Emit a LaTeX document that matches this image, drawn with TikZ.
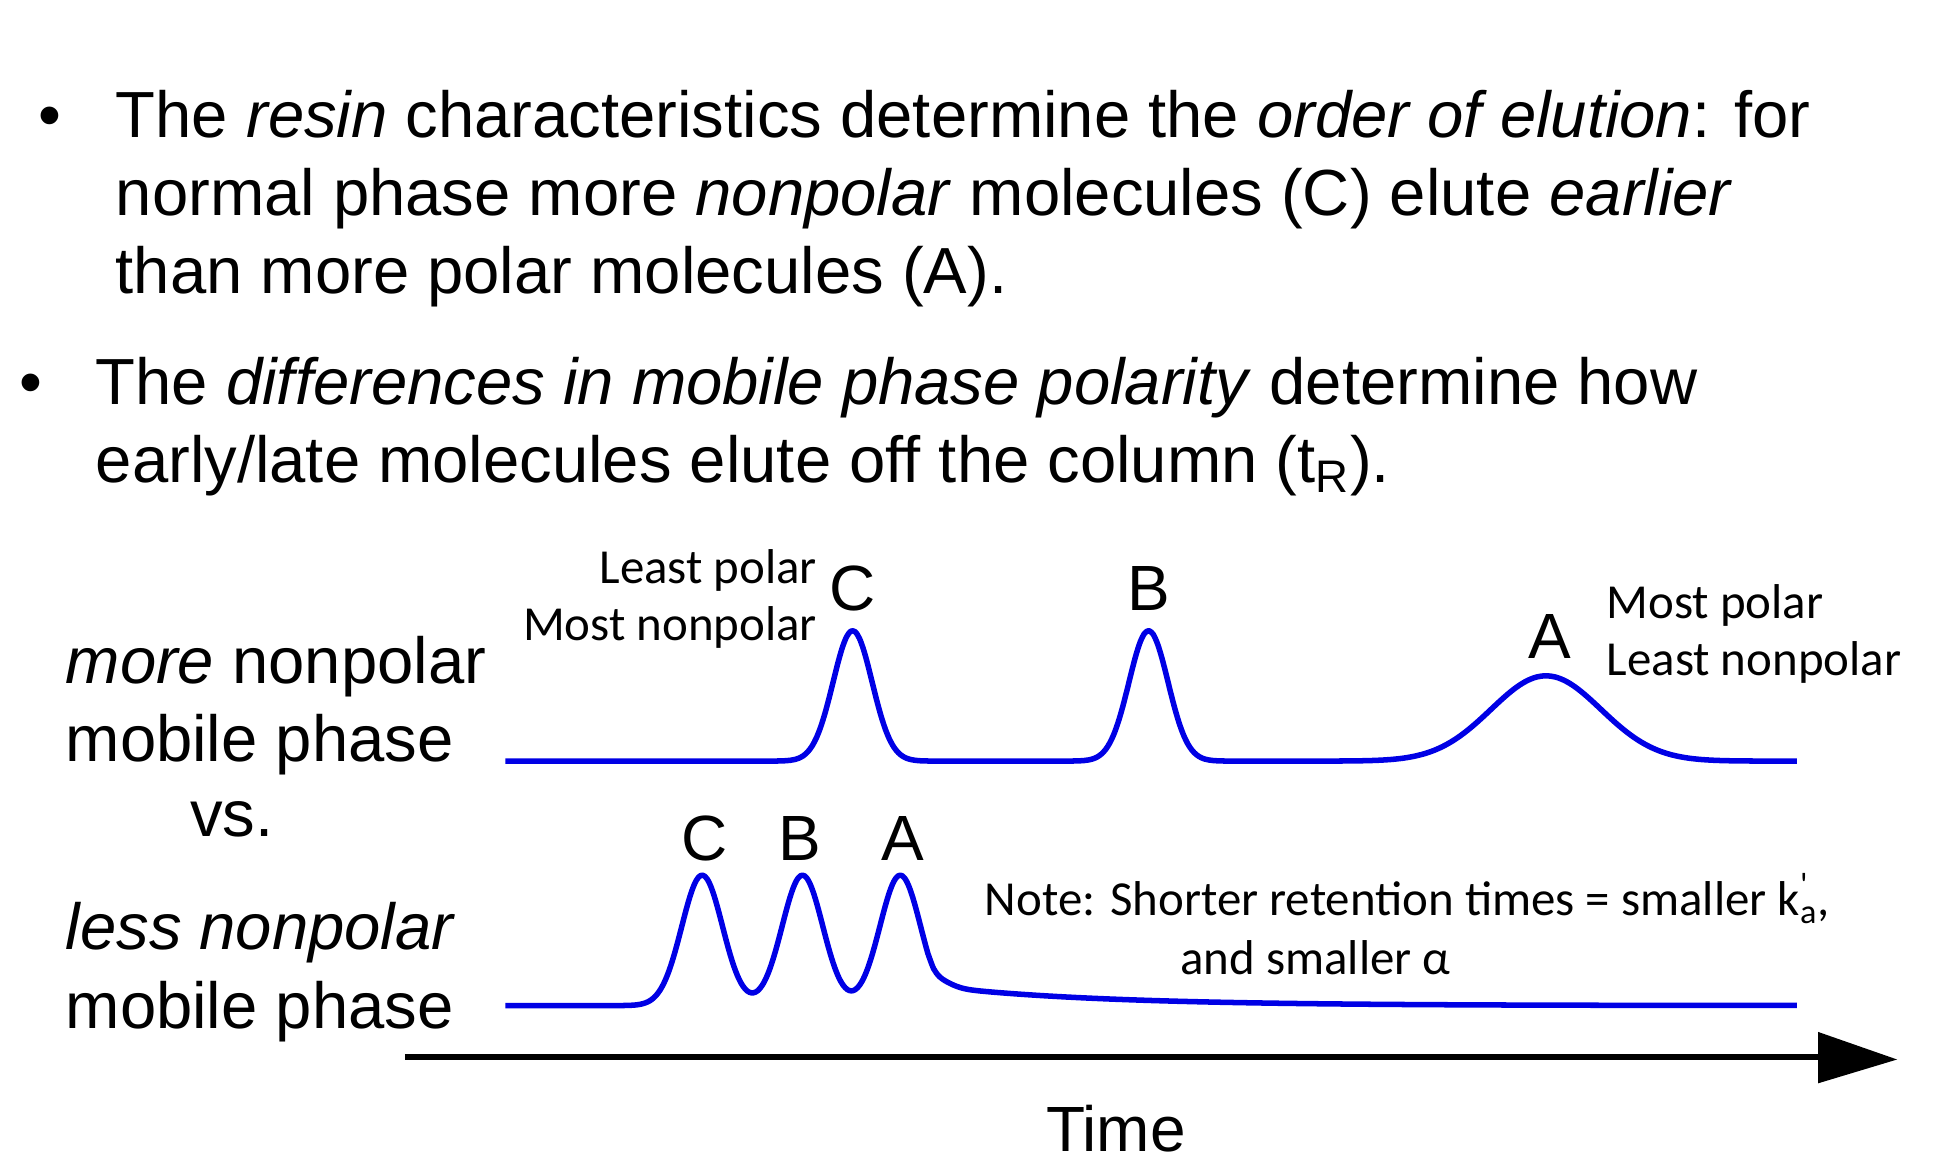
\documentclass[tikz,border=0pt]{standalone}
\usepackage{fontspec}
\setmainfont{Liberation Sans}
\newfontfamily\carlitofont{Carlito}
\begin{document}
\begin{tikzpicture}[x=0.5pt,y=-0.5pt,
  big/.style={inner sep=0pt,font=\fontsize{26}{31}\selectfont},
  pk/.style={inner sep=0pt,font=\fontsize{25.5}{30}\selectfont},
  sm/.style={inner sep=0pt,font=\carlitofont\fontsize{19.5}{24}\selectfont},
  curve/.style={blue!90!black,line width=2.2pt,line join=round}]
\useasboundingbox (0,0) rectangle (1560,936);
\tikzset{declare function={g(\x,\m,\s)=exp(-min(((\x-\m)/\s)^2,60));}}
% bullets
\node[big,anchor=base] (b1) at (40,110) {\textbullet};
\node[big,anchor=base west] (t1a) at (92,110) {The \textit{resin} characteristics determine the \textit{order of elution}: for};
\node[big,anchor=base west] (t1b) at (92,172) {normal phase more \textit{nonpolar} molecules (C) elute \textit{earlier}};
\node[big,anchor=base west] (t1c) at (92,234) {than more polar molecules (A).};
\node[big,anchor=base] (b2) at (25,323) {\textbullet};
\node[big,anchor=base west] (t2a) at (76,323) {The \textit{differences in mobile phase polarity} determine how};
\node[big,anchor=base west] (t2b) at (76,385) {early/late molecules elute off the column (t\textsubscript{R}).};
% left labels
\node[big,anchor=base west] (l1) at (52,545) {\textit{more} nonpolar};
\node[big,anchor=base west] (l2) at (52,607) {mobile phase};
\node[big,anchor=base] (l3) at (185,667) {vs.};
\node[big,anchor=base west] (l4) at (52,757) {\textit{less nonpolar}};
\node[big,anchor=base west] (l5) at (52,820) {mobile phase};
% curves
\draw[curve] plot[domain=403:1433,samples=300,smooth] (\x,{607-104*g(\x,680,22)-104*g(\x,916,22)-68*g(\x,1233,62)});
\draw[curve] plot[domain=403:740,samples=200,smooth] (\x,{802-104*g(\x,560,23)-104*g(\x,640,23)-104*g(\x,718,23)})
  -- plot[domain=740:1433,samples=150,smooth] (\x,{802-104*g(\x,718,23)-16*exp(-(\x-740)/130)*(1-g(\x,740,12))});
% peak labels
\node[pk,anchor=base] (pc) at (680,487) {C};
\node[pk,anchor=base] (pb) at (916,487) {B};
\node[pk,anchor=base] (pa) at (1236,525) {A};
\node[pk,anchor=base] (qc) at (562,686) {C};
\node[pk,anchor=base] (qb) at (638,686) {B};
\node[pk,anchor=base] (qa) at (720,686) {A};
\node[sm,anchor=base east] (s1) at (652,465) {Least polar};
\node[sm,anchor=base east] (s2) at (652,511) {Most nonpolar};
\node[sm,anchor=base west] (s3) at (1281,493) {Most polar};
\node[sm,anchor=base west] (s4) at (1281,539) {Least nonpolar};
\node[sm,anchor=base west] (n1) at (785,730) {Note: Shorter retention times = smaller k\rlap{\textsuperscript{'}}\textsubscript{a},};
\node[sm,anchor=base west] (n2) at (941,777) {and smaller α};
% axis
\coordinate (ax0) at (323,843);
\coordinate (ax1) at (1452,843);
\draw[line width=2.5pt] (ax0) -- (ax1);
\fill (1450,823) -- (1513,845) -- (1450,864) -- cycle;
\node[pk,anchor=base] (time) at (890,918) {Time};
\end{tikzpicture}
\end{document}
